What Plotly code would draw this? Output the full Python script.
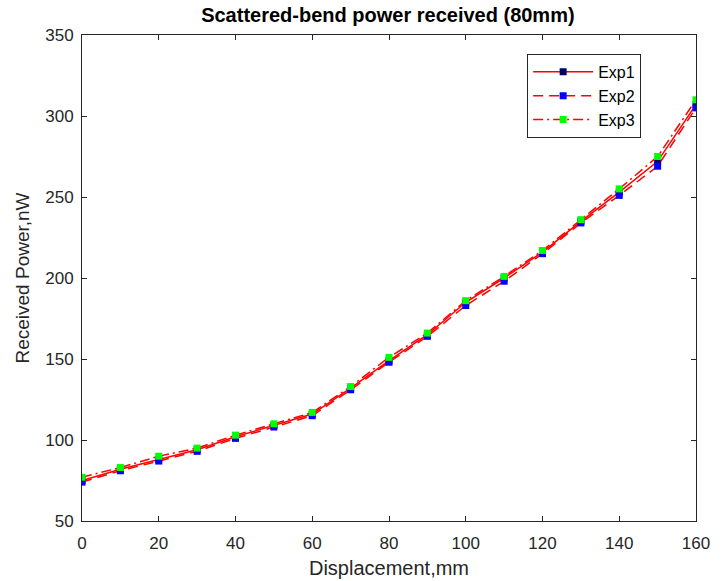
import plotly.graph_objects as go

displacement = [0, 10, 20, 30, 40, 50, 60, 70, 80, 90, 100, 110, 120, 130, 140, 150, 160]
exp1 = [75, 82, 88, 94, 102, 109, 116, 132, 149, 165, 185, 200, 216, 235, 253, 272, 307]
exp2 = [74, 81, 87, 93, 101, 108, 115, 131, 148, 164, 183, 198, 215, 234, 251, 269, 305]
exp3 = [77, 83, 90, 95, 103, 110, 117, 133, 151, 166, 186, 201, 217, 236, 255, 275, 310]

FONT = "Liberation Sans, Arial, Helvetica"

fig = go.Figure()
fig.add_trace(go.Scatter(x=displacement, y=exp1, name="Exp1", mode="lines+markers",
                         line=dict(color="#ff0000", width=1.5, dash="solid"),
                         marker=dict(symbol="square", size=7, color="#00006a")))
fig.add_trace(go.Scatter(x=displacement, y=exp2, name="Exp2", mode="lines+markers",
                         line=dict(color="#ff0000", width=1.5, dash="10px,6px"),
                         marker=dict(symbol="square", size=7, color="#0000ff")))
fig.add_trace(go.Scatter(x=displacement, y=exp3, name="Exp3", mode="lines+markers",
                         line=dict(color="#ff0000", width=1.5, dash="10px,4px,2px,4px"),
                         marker=dict(symbol="square", size=7, color="#00ff00")))

axis_common = dict(showline=True, linecolor="#262626", linewidth=1, mirror="ticks",
                   ticks="inside", ticklen=5, tickcolor="#262626", showgrid=False,
                   zeroline=False, automargin=False,
                   tickfont=dict(family=FONT, size=17, color="#262626"))

fig.update_layout(
    width=725, height=581,
    margin=dict(l=82, r=29, t=35, b=60),
    paper_bgcolor="white", plot_bgcolor="white",
    title=dict(text="<b>Scattered-bend power received (80mm)</b>", x=0.535, xanchor="center",
               y=0.975, yanchor="middle",
               font=dict(family=FONT, size=20, color="#000000")),
    xaxis=dict(range=[0, 160], tickvals=list(range(0, 161, 20)), ticklabelstandoff=7,
               title=dict(text="Displacement,mm", font=dict(family=FONT, size=20, color="#262626"), standoff=8),
               **axis_common),
    yaxis=dict(range=[50, 350], tickvals=list(range(50, 351, 50)), ticklabelstandoff=4,
               title=dict(text="Received Power,nW", font=dict(family=FONT, size=19, color="#262626"), standoff=10),
               **axis_common),
    legend=dict(x=0.725, y=0.961, xanchor="left", yanchor="top",
                bordercolor="#262626", borderwidth=1, bgcolor="white",
                font=dict(family=FONT, size=16, color="#000000"),
                itemwidth=60, tracegroupgap=0),
    showlegend=True,
)

fig.write_html("out.html")
